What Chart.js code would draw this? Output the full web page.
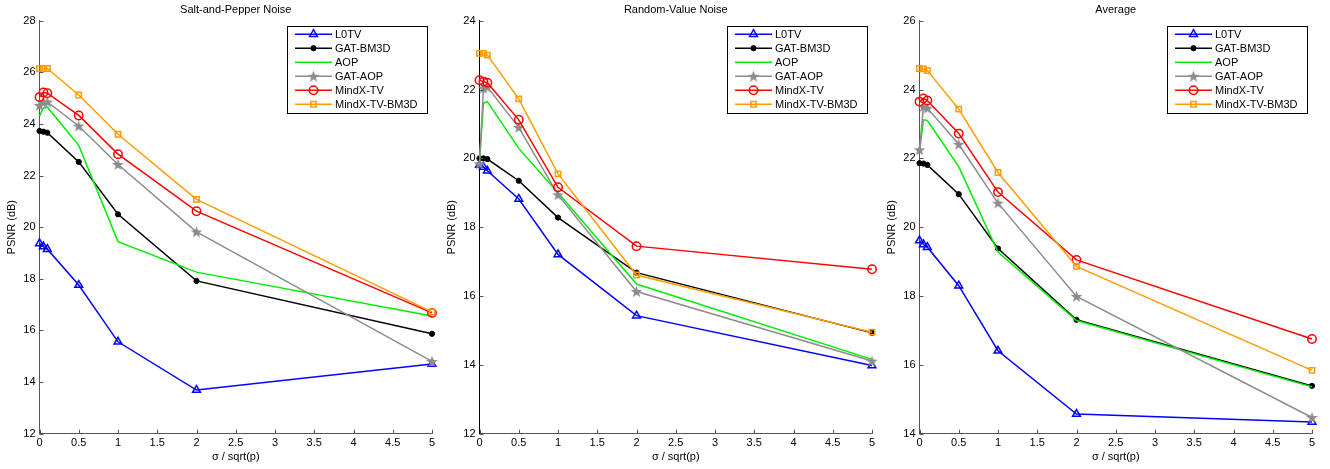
<!DOCTYPE html>
<html>
<head>
<meta charset="utf-8">
<script src="https://cdn.jsdelivr.net/npm/chart.js@4.4.1/dist/chart.umd.min.js"></script>
<style>
  html, body { margin: 0; padding: 0; background: #fff; }
  body { width: 1330px; height: 469px; position: relative; overflow: hidden; }
  canvas { position: absolute; top: 0; }
</style>
</head>
<body>
<canvas id="c1" width="440" height="469" style="left:0px"></canvas>
<canvas id="c2" width="440" height="469" style="left:440px"></canvas>
<canvas id="c3" width="450" height="469" style="left:880px"></canvas>
<script>
// ---------- data ----------
const xValues = [0, 0.05, 0.1, 0.5, 1, 2, 5];
const seriesNames = ['L0TV', 'GAT-BM3D', 'AOP', 'GAT-AOP', 'MindX-TV', 'MindX-TV-BM3D'];
const panelTitles = ['Salt-and-Pepper Noise', 'Random-Value Noise', 'Average'];
const xTitle = '\u03C3 / sqrt(p)';
const yTitle = 'PSNR (dB)';

// Salt-and-Pepper Noise
const spL0TV      = [19.37, 19.25, 19.15, 17.76, 15.56, 13.69, 14.70];
const spGATBM3D   = [23.73, 23.70, 23.66, 22.53, 20.50, 17.92, 15.87];
const spAOP       = [24.30, 24.62, 24.65, 23.17, 19.44, 18.26, 16.56];
const spGATAOP    = [24.72, 24.85, 24.85, 23.92, 22.43, 19.82, 14.80];
const spMindXTV   = [25.04, 25.22, 25.19, 24.33, 22.83, 20.62, 16.68];
const spMindXBM3D = [26.14, 26.15, 26.15, 25.12, 23.60, 21.08, 16.72];

// Random-Value Noise
const rvL0TV      = [19.81, 19.75, 19.64, 18.82, 17.21, 15.43, 13.98];
const rvGATBM3D   = [20.00, 20.00, 19.98, 19.35, 18.28, 16.68, 14.93];
const rvAOP       = [19.90, 21.60, 21.65, 20.29, 19.00, 16.35, 14.16];
const rvGATAOP    = [19.84, 22.04, 22.07, 20.90, 18.94, 16.13, 14.11];
const rvMindXTV   = [22.27, 22.23, 22.20, 21.12, 19.16, 17.45, 16.78];
const rvMindXBM3D = [23.05, 23.05, 23.00, 21.73, 19.55, 16.61, 14.95];

// Average
const avL0TV      = [19.61, 19.50, 19.42, 18.30, 16.41, 14.57, 14.34];
const avGATBM3D   = [21.86, 21.85, 21.81, 20.96, 19.38, 17.31, 15.39];
const avAOP       = [22.20, 23.12, 23.10, 21.76, 19.28, 17.29, 15.36];
const avGATAOP    = [22.25, 23.50, 23.46, 22.41, 20.70, 17.99, 14.47];
const avMindXTV   = [23.65, 23.74, 23.68, 22.72, 21.02, 19.05, 16.75];
const avMindXBM3D = [24.61, 24.60, 24.55, 23.43, 21.59, 18.86, 15.84];

const yTicksMin = [12, 12, 14];
const yTicksMax = [28, 24, 26];
const xTickStep = 0.5;
const yTickStep = 2;

// ---------- styles ----------
const FONT = '"Liberation Sans", Arial, Helvetica, sans-serif';

function makeStar(color) {
  const c = document.createElement('canvas');
  const s = 13;
  c.width = s; c.height = s;
  const g = c.getContext('2d');
  const cx = s / 2, cy = s / 2 + 0.4, R = 6.2, r = 2.5;
  g.beginPath();
  for (let i = 0; i < 10; i++) {
    const rad = (i % 2 === 0) ? R : r;
    const a = -Math.PI / 2 + i * Math.PI / 5;
    const px = cx + rad * Math.cos(a), py = cy + rad * Math.sin(a);
    if (i === 0) g.moveTo(px, py); else g.lineTo(px, py);
  }
  g.closePath();
  g.fillStyle = color;
  g.fill();
  return c;
}
const starImg = makeStar('#8c8c8c');

const seriesStyles = [
  { color: '#0000ff', pointStyle: 'triangle', radius: 4.5, fill: 'rgba(0,0,0,0)', bw: 1.5 },
  { color: '#000000', pointStyle: 'circle', radius: 2.6, fill: '#000000', bw: 1 },
  { color: '#00ee00', pointStyle: false, radius: 0, fill: '#00ee00', bw: 1 },
  { color: '#8c8c8c', pointStyle: starImg, radius: 6, fill: '#8c8c8c', bw: 1 },
  { color: '#ff0000', pointStyle: 'circle', radius: 4.2, fill: 'rgba(0,0,0,0)', bw: 1.5 },
  { color: '#ff9c00', pointStyle: 'rect', radius: 3.8, fill: 'rgba(0,0,0,0)', bw: 1.5 }
];

const panelData = [
  [spL0TV, spGATBM3D, spAOP, spGATAOP, spMindXTV, spMindXBM3D],
  [rvL0TV, rvGATBM3D, rvAOP, rvGATAOP, rvMindXTV, rvMindXBM3D],
  [avL0TV, avGATBM3D, avAOP, avGATAOP, avMindXTV, avMindXBM3D]
];

// ---------- plugins ----------
const inwardTicks = {
  id: 'inwardTicks',
  afterDraw(chart) {
    const ctx = chart.ctx;
    const a = chart.chartArea;
    const xs = chart.scales.x, ys = chart.scales.y;
    ctx.save();
    ctx.strokeStyle = '#555555';
    ctx.lineWidth = 1;
    ctx.beginPath();
    xs.ticks.forEach(t => {
      const px = Math.round(xs.getPixelForValue(t.value)) + 0.5;
      ctx.moveTo(px, a.bottom);
      ctx.lineTo(px, a.bottom - 4);
    });
    ys.ticks.forEach(t => {
      const py = Math.round(ys.getPixelForValue(t.value)) + 0.5;
      ctx.moveTo(a.left, py);
      ctx.lineTo(a.left + 4, py);
    });
    ctx.stroke();
    ctx.restore();
  }
};

const boxLegend = {
  id: 'boxLegend',
  afterDraw(chart) {
    const ctx = chart.ctx;
    const a = chart.chartArea;
    const left = a.right - 145, top = a.top + 5.5, w = 140, h = 87;
    ctx.save();
    ctx.fillStyle = '#ffffff';
    ctx.fillRect(left, top, w, h);
    ctx.strokeStyle = '#000000';
    ctx.lineWidth = 1;
    ctx.strokeRect(Math.round(left) + 0.5, Math.round(top) + 0.5, w, h);
    ctx.font = '11px ' + FONT;
    ctx.textBaseline = 'middle';
    ctx.textAlign = 'left';
    chart.data.datasets.forEach((ds, i) => {
      const y = top + 8 + i * 14;
      const x0 = left + 8, x1 = left + 45, xm = (x0 + x1) / 2;
      ctx.strokeStyle = ds.borderColor;
      ctx.lineWidth = ds.borderWidth;
      ctx.beginPath();
      ctx.moveTo(x0, y);
      ctx.lineTo(x1, y);
      ctx.stroke();
      if (ds.pointStyle && Chart.helpers && Chart.helpers.drawPoint) {
        ctx.fillStyle = ds.pointBackgroundColor;
        ctx.strokeStyle = ds.pointBorderColor;
        ctx.lineWidth = ds.pointBorderWidth;
        Chart.helpers.drawPoint(ctx, {
          pointStyle: ds.pointStyle, radius: ds.pointRadius, rotation: 0, borderWidth: ds.pointBorderWidth
        }, xm, y);
      }
      ctx.fillStyle = '#000000';
      ctx.fillText(ds.label, left + 48, y + 0.5);
    });
    ctx.restore();
  }
};

// ---------- charts ----------
function buildChart(id, p, canvasWidth) {
  const datasets = seriesNames.map((name, i) => {
    const st = seriesStyles[i];
    return {
      label: name,
      data: xValues.map((x, k) => ({ x: x, y: panelData[p][i][k] })),
      borderColor: st.color,
      backgroundColor: st.color,
      borderWidth: 1.5,
      pointStyle: st.pointStyle,
      pointRadius: st.radius,
      pointHoverRadius: st.radius,
      pointBackgroundColor: st.fill,
      pointBorderColor: st.color,
      pointBorderWidth: st.bw,
      tension: 0,
      clip: false,
      order: 6 - i
    };
  });
  return new Chart(document.getElementById(id), {
    type: 'line',
    data: { datasets },
    plugins: [inwardTicks, boxLegend],
    options: {
      responsive: false,
      animation: false,
      devicePixelRatio: 1,
      events: [],
      layout: { padding: { left: 0, right: canvasWidth - 432, top: 0, bottom: 0 } },
      plugins: {
        legend: { display: false },
        tooltip: { enabled: false },
        title: {
          display: true,
          fullSize: false,
          text: panelTitles[p],
          color: '#000',
          font: { family: FONT, size: 11, weight: 'normal' },
          padding: { top: 3, bottom: 4.5 }
        }
      },
      scales: {
        x: {
          type: 'linear',
          min: 0, max: 5,
          ticks: {
            stepSize: xTickStep, color: '#000', font: { family: FONT, size: 11 }, padding: 3,
            maxRotation: 0, autoSkip: false,
            callback: v => String(Math.round(v * 10) / 10)
          },
          grid: { display: false, drawTicks: false },
          border: { display: true, color: '#555555', width: 1 },
          title: { display: true, text: xTitle, color: '#000', font: { family: FONT, size: 11 }, padding: { top: 0, bottom: 5 } },
          afterFit(scale) { scale.height = 35.3; }
        },
        y: {
          type: 'linear',
          min: yTicksMin[p], max: yTicksMax[p],
          ticks: {
            stepSize: yTickStep, color: '#000', font: { family: FONT, size: 11 }, padding: 4,
            callback: v => String(v)
          },
          grid: { display: false, drawTicks: false },
          border: { display: true, color: p === 1 ? '#000000' : '#555555', width: 1 },
          title: { display: true, text: yTitle, color: '#000', font: { family: FONT, size: 11 }, padding: { top: 5, bottom: 0 } },
          afterFit(scale) { scale.width = 39.5; }
        }
      }
    }
  });
}

buildChart('c1', 0, 440);
buildChart('c2', 1, 440);
buildChart('c3', 2, 450);
</script>
</body>
</html>
